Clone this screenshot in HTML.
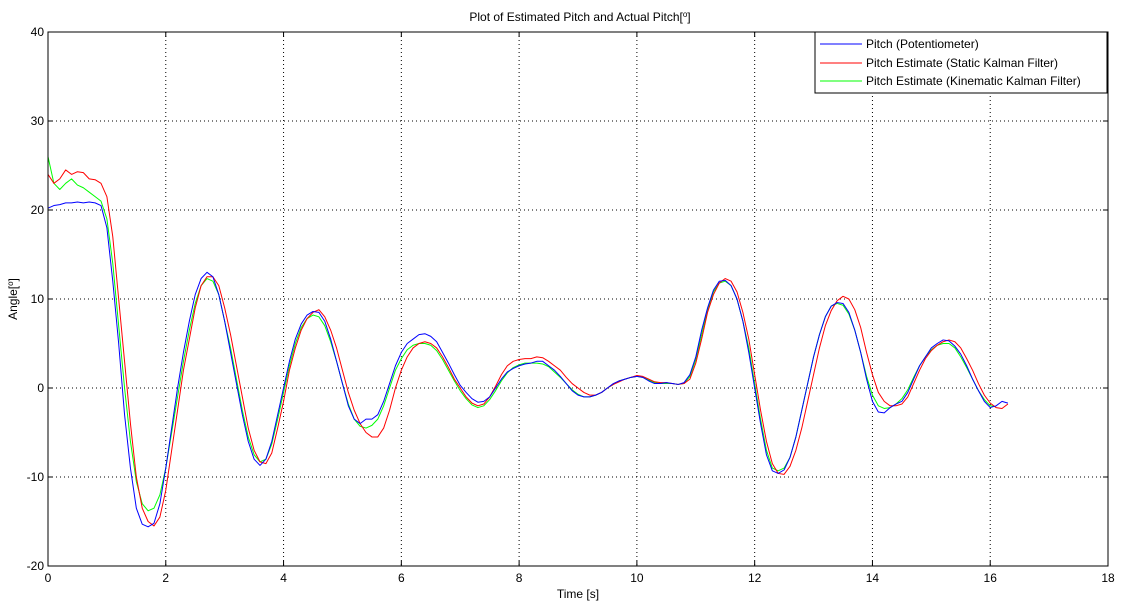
<!DOCTYPE html>
<html><head><meta charset="utf-8">
<style>
html,body{margin:0;padding:0;background:#fff;}
svg{display:block;font-family:"Liberation Sans",Arial,sans-serif;}
</style></head>
<body>
<svg id="chart" width="1125" height="605" viewBox="0 0 1125 605" xmlns="http://www.w3.org/2000/svg">
<rect x="0" y="0" width="1125" height="605" fill="#fff"/>
<g id="grid"></g>
<g id="series"></g>
<g id="axes"></g>
<text x="580" y="21" font-size="12" text-anchor="middle">Plot of Estimated Pitch and Actual Pitch[<tspan font-size="8" dy="-4">o</tspan><tspan dy="4">]</tspan></text>
<text x="578" y="598" font-size="12" text-anchor="middle">Time [s]</text>
<text transform="translate(17,299) rotate(-90)" font-size="12" text-anchor="middle">Angle[<tspan font-size="8" dy="-4">o</tspan><tspan dy="4">]</tspan></text>
<g>
<rect x="815" y="32" width="292" height="61" fill="#fff" stroke="#000" stroke-width="1"/>
<g><line x1="820" y1="44" x2="862" y2="44" stroke="#0000ff"/><text x="866" y="48" font-size="12">Pitch (Potentiometer)</text></g>
<g><line x1="820" y1="63" x2="862" y2="63" stroke="#ff0000"/><text x="866" y="67" font-size="12">Pitch Estimate (Static Kalman Filter)</text></g>
<g><line x1="820" y1="81" x2="862" y2="81" stroke="#00ff00"/><text x="866" y="85" font-size="12">Pitch Estimate (Kinematic Kalman Filter)</text></g>
</g>
</svg>
<script>
const xTicks=[0,2,4,6,8,10,12,14,16,18];
const yTicks=[-20,-10,0,10,20,30,40];
const tStart=0, tStep=0.1;
const potentiometer=[20.2,20.5,20.6,20.8,20.8,20.9,20.8,20.9,20.8,20.5,18,12,5,-3,-9,-13.5,-15.3,-15.6,-15.2,-13,-9,-4.5,0,4,7.5,10.5,12.3,13,12.5,10.5,7.5,4,0.5,-3,-6,-8,-8.7,-8,-6,-3,0,3,5.5,7.2,8.2,8.6,8.5,7.5,5.5,3,0.5,-2,-3.5,-4,-3.5,-3.5,-3,-1.5,0.5,2.5,4,5,5.5,6,6.1,5.8,5.2,4,2.8,1.5,0.3,-0.5,-1.2,-1.6,-1.5,-1,0,1,1.8,2.2,2.5,2.7,2.8,3,3,2.5,2,1.3,0.5,-0.3,-0.8,-1,-1,-0.8,-0.5,0,0.5,0.8,1,1.2,1.3,1.2,0.8,0.5,0.5,0.6,0.5,0.4,0.6,1.5,3.5,6.5,9,11,12,12.1,11.5,10,7.5,4,0,-4,-7.5,-9.3,-9.6,-9.2,-7.8,-5.5,-2.5,0.5,3.5,6,8,9.2,9.6,9.5,8.5,6.5,4,1,-1.5,-2.7,-2.8,-2.2,-1.8,-1.5,-0.5,1,2.5,3.5,4.5,5,5.4,5.3,4.7,3.8,2.5,1,-0.3,-1.5,-2.2,-2,-1.5,-1.7];
const staticKalman=[24,23,23.5,24.5,24,24.3,24.2,23.5,23.4,23,21.5,17,10,3,-4,-10,-13.5,-15,-15.5,-14.5,-11.5,-7,-2.5,2,5.5,9,11.5,12.5,12.5,11.5,9,6,2.5,-1,-4.5,-7,-8.3,-8.5,-7.3,-4.5,-1.5,2,4.5,6.5,7.8,8.5,8.8,8,6.5,4.5,2,-0.5,-2.5,-4,-5,-5.5,-5.5,-4.5,-2.5,0,2,3.5,4.5,5,5.2,5,4.5,3.5,2.3,1,0,-1,-1.7,-2,-1.8,-1,0.2,1.5,2.5,3,3.2,3.3,3.3,3.5,3.4,3,2.5,2,1.2,0.5,0,-0.5,-0.8,-0.8,-0.5,0,0.4,0.7,1,1.2,1.4,1.3,1,0.7,0.6,0.6,0.5,0.4,0.5,1,2.8,5.5,8.5,10.5,11.8,12.3,12,10.8,8.5,5.5,1.5,-2.5,-6,-8.5,-9.6,-9.7,-8.8,-7,-4.5,-1.5,1.5,4.5,7,8.7,9.8,10.3,10,8.8,6.8,4,1.5,-0.5,-1.5,-2,-2,-1.8,-1,0.5,2,3.3,4.2,4.8,5.2,5.4,5.2,4.5,3.3,2,0.5,-0.8,-1.7,-2.2,-2.3,-1.8];
const kinematicKalman=[26,23,22.3,23,23.5,22.8,22.5,22,21.5,21,19,14,7,0,-6,-10.5,-13,-13.8,-13.5,-12,-9,-5,-1,3,6.5,9.5,11.5,12.3,12,10.5,7.5,4.5,1,-2.5,-5.5,-7.5,-8.3,-8,-6.3,-3.5,-0.5,2.5,5,6.8,7.8,8.2,8,7,5.2,3,0.5,-1.8,-3.5,-4.3,-4.5,-4.2,-3.5,-2,0,2,3.3,4.3,4.8,5,5,4.8,4.2,3.2,2,0.8,-0.3,-1.2,-1.9,-2.2,-2,-1.3,-0.3,0.8,1.7,2.3,2.6,2.8,2.8,2.8,2.7,2.4,1.8,1.2,0.5,-0.2,-0.7,-1,-1,-0.8,-0.5,0,0.4,0.8,1,1.2,1.3,1.2,0.9,0.6,0.5,0.5,0.5,0.4,0.5,1.3,3.2,6,8.8,10.8,11.8,12,11.5,10,7.5,4.5,0.5,-3.5,-7,-9,-9.3,-9,-7.8,-5.5,-2.5,0.5,3.5,6,8,9.2,9.5,9.3,8.3,6.5,4,1.3,-0.8,-2,-2.3,-2.2,-1.8,-1.2,-0.2,1.2,2.5,3.5,4.3,4.8,5,5,4.5,3.5,2.3,1,-0.3,-1.3,-2,-2.1];

const NS="http://www.w3.org/2000/svg";
const L=48,R=1108,T=32,B=566;
const xMin=0,xMax=18,yMin=-20,yMax=40;
const xs=v=>L+(v-xMin)/(xMax-xMin)*(R-L);
const ys=v=>B-(v-yMin)/(yMax-yMin)*(B-T);
function mk(tag,attrs,parent){const e=document.createElementNS(NS,tag);for(const k in attrs)e.setAttribute(k,attrs[k]);parent.appendChild(e);return e;}
const grid=document.getElementById('grid'),axes=document.getElementById('axes'),series=document.getElementById('series');
xTicks.forEach(t=>{
  const x=xs(t);
  if(t>xMin&&t<xMax){const g=mk('line',{x1:x,y1:T,x2:x,y2:B,stroke:'#000','stroke-dasharray':'1,3','stroke-width':1},grid);
  
  }
  mk('line',{x1:x,y1:B,x2:x,y2:B-5,stroke:'#000'},axes);
  mk('line',{x1:x,y1:T,x2:x,y2:T+5,stroke:'#000'},axes);
  const tx=mk('text',{x:x,y:B+16,'font-size':12,'text-anchor':'middle'},axes);
  tx.textContent=t;
  
  
});
yTicks.forEach(t=>{
  const y=ys(t);
  if(t>yMin&&t<yMax){const g=mk('line',{x1:L,y1:y,x2:R,y2:y,stroke:'#000','stroke-dasharray':'1,3','stroke-width':1},grid);
  
  }
  mk('line',{x1:L,y1:y,x2:L+5,y2:y,stroke:'#000'},axes);
  mk('line',{x1:R,y1:y,x2:R-5,y2:y,stroke:'#000'},axes);
  const tx=mk('text',{x:L-4,y:y+4,'font-size':12,'text-anchor':'end'},axes);
  tx.textContent=t;
  
  
});
const box=mk('rect',{x:L,y:T,width:R-L,height:B-T,fill:'none',stroke:'#000'},axes);


function drawLine(arr,color,name){
  const d=arr.map((v,i)=>(i?'L':'M')+xs(tStart+i*tStep).toFixed(2)+','+ys(v).toFixed(2)).join(' ');
  const p=mk('path',{d:d,fill:'none',stroke:color,'stroke-width':1,'stroke-linejoin':'round'},series);
  
  
}
drawLine(kinematicKalman,'#00ff00','line-kinematic-kalman');
drawLine(staticKalman,'#ff0000','line-static-kalman');
drawLine(potentiometer,'#0000ff','line-potentiometer');
</script>
</body></html>
